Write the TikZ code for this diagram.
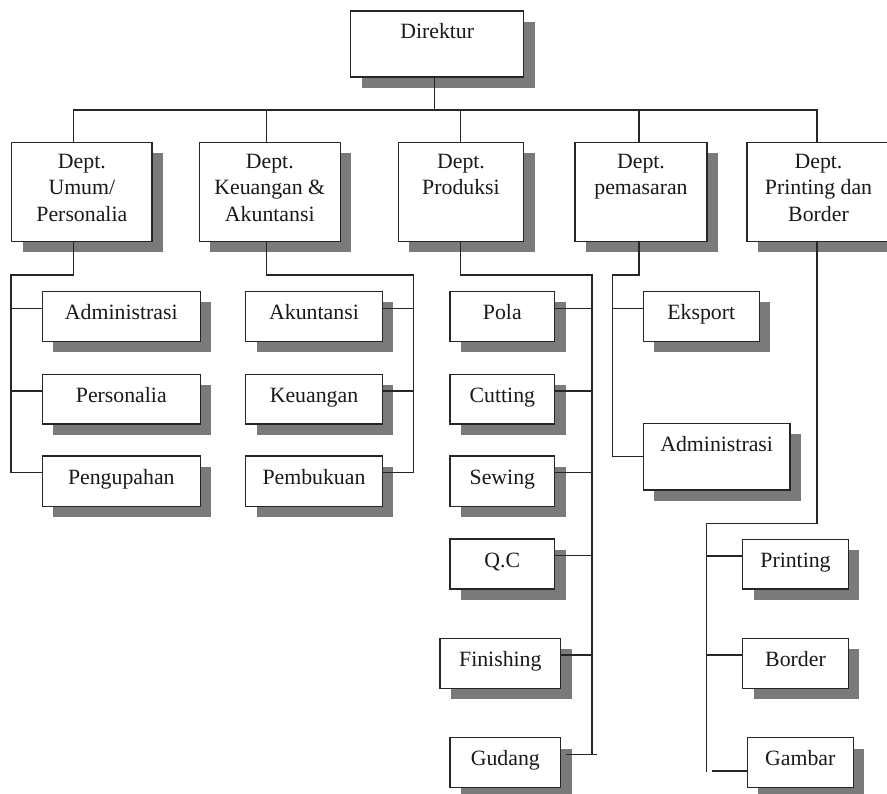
\documentclass[tikz,border=0pt]{standalone}
\usepackage{fontspec}
\setmainfont{Liberation Serif}
\usetikzlibrary{shadows}
\begin{document}
\begin{tikzpicture}[x=1pt,y=-1pt,
  box/.style={draw=black!85, line width=1.3pt, fill=white, inner sep=0pt, outer sep=0pt, anchor=north west,
    drop shadow={shadow xshift=10.8pt, shadow yshift=-10.8pt, fill=black!52, opacity=1}},
  txt/.style={font=\fontsize{21.8pt}{26.5pt}\selectfont, inner sep=0pt, align=center, text=black!90},
  conn/.style={draw=black!85, line width=1.1pt}]
\useasboundingbox[fill=white] (0,0) rectangle (887,794);

% ---- boxes ----
\node[box, minimum width=173pt, minimum height=66pt] (dir) at (350.7,11) {};
\node[box, minimum width=140.3pt, minimum height=99pt] (d1) at (11.7,142.7) {};
\node[box, minimum width=141pt, minimum height=99pt] (d2) at (199.3,142.7) {};
\node[box, minimum width=125.4pt, minimum height=99pt] (d3) at (398.3,142.7) {};
\node[box, minimum width=132pt, minimum height=99pt] (d4) at (575,142.7) {};
\node[box, minimum width=145pt, minimum height=99pt] (d5) at (747,142.7) {};

\node[box, minimum width=158pt, minimum height=49.5pt] (adm) at (42.3,291.7) {};
\node[box, minimum width=158pt, minimum height=49.7pt] (per) at (42.3,374.3) {};
\node[box, minimum width=158pt, minimum height=50.5pt] (peng) at (42.3,456) {};

\node[box, minimum width=136.6pt, minimum height=49.5pt] (ak) at (245.7,291.7) {};
\node[box, minimum width=136.6pt, minimum height=49.7pt] (keu) at (245.7,374.3) {};
\node[box, minimum width=136.6pt, minimum height=50.5pt] (pemb) at (245.7,456) {};

\node[box, minimum width=104.7pt, minimum height=49.5pt] (pola) at (450,291.7) {};
\node[box, minimum width=104.7pt, minimum height=49.7pt] (cut) at (450,374.3) {};
\node[box, minimum width=104.7pt, minimum height=50.5pt] (sew) at (450,456) {};
\node[box, minimum width=104.7pt, minimum height=50pt] (qc) at (450,539) {};
\node[box, minimum width=120.7pt, minimum height=50pt] (fin) at (440,638.3) {};
\node[box, minimum width=110.7pt, minimum height=49.6pt] (gud) at (450,737.7) {};

\node[box, minimum width=116pt, minimum height=49.5pt] (eks) at (643.3,291.7) {};
\node[box, minimum width=146.7pt, minimum height=66.3pt] (adm2) at (643.3,423.7) {};

\node[box, minimum width=105.6pt, minimum height=49.7pt] (prt) at (742.7,539.3) {};
\node[box, minimum width=105.6pt, minimum height=50pt] (bor) at (742.7,638.3) {};
\node[box, minimum width=106pt, minimum height=49.6pt] (gam) at (747.3,737.7) {};

% ---- texts ----
\node[txt, anchor=base] (dirT) at ([yshift=-28pt]dir.north) {Direktur};
\node[txt, anchor=north] (d1T) at (d1.north) {\rule{0pt}{25.6pt}Dept.\\Umum/\\Personalia};
\node[txt, anchor=north] (d2T) at (d2.north) {\rule{0pt}{25.6pt}Dept.\\Keuangan \&\\Akuntansi};
\node[txt, anchor=north] (d3T) at (d3.north) {\rule{0pt}{25.6pt}Dept.\\Produksi};
\node[txt, anchor=north] (d4T) at (d4.north) {\rule{0pt}{25.6pt}Dept.\\pemasaran};
\node[txt, anchor=north] (d5T) at ([xshift=-1pt]d5.north) {\rule{0pt}{25.6pt}Dept.\\Printing dan\\Border};

\node[txt, anchor=base] (admT) at ([yshift=-28pt]adm.north) {Administrasi};
\node[txt, anchor=base] (perT) at ([yshift=-28pt]per.north) {Personalia};
\node[txt, anchor=base] (pengT) at ([yshift=-28pt]peng.north) {Pengupahan};
\node[txt, anchor=base] (akT) at ([yshift=-28pt]ak.north) {Akuntansi};
\node[txt, anchor=base] (keuT) at ([yshift=-28pt]keu.north) {Keuangan};
\node[txt, anchor=base] (pembT) at ([yshift=-28pt]pemb.north) {Pembukuan};
\node[txt, anchor=base] (polaT) at ([yshift=-28pt]pola.north) {Pola};
\node[txt, anchor=base] (cutT) at ([yshift=-28pt]cut.north) {Cutting};
\node[txt, anchor=base] (sewT) at ([yshift=-28pt]sew.north) {Sewing};
\node[txt, anchor=base] (qcT) at ([yshift=-28pt]qc.north) {Q.C};
\node[txt, anchor=base] (finT) at ([yshift=-28pt]fin.north) {Finishing};
\node[txt, anchor=base] (gudT) at ([yshift=-28pt]gud.north) {Gudang};
\node[txt, anchor=base] (eksT) at ([yshift=-28pt]eks.north) {Eksport};
\node[txt, anchor=base] (adm2T) at ([yshift=-28pt]adm2.north) {Administrasi};
\node[txt, anchor=base] (prtT) at ([yshift=-28pt]prt.north) {Printing};
\node[txt, anchor=base] (borT) at ([yshift=-28pt]bor.north) {Border};
\node[txt, anchor=base] (gamT) at ([yshift=-28pt]gam.north) {Gambar};

% ---- top level connectors ----
\draw[conn] ([xshift=-2.9pt]dir.south) -- ++(0,33);
\draw[conn] ([xshift=-8.5pt]d1.north) -- ++(0,-32.7) -| ([xshift=-2.5pt]d5.north);
\draw[conn] ([xshift=-3.1pt]d2.north) -- ++(0,-32.7);
\draw[conn] ([xshift=-0.7pt]d3.north) -- ++(0,-32.7);
\draw[conn] ([xshift=-2pt]d4.north) -- ++(0,-32.7);

% ---- branch points ----
\coordinate (c1) at (11,275);
\coordinate (c2) at (413.3,275);
\coordinate (c3) at (592,275);
\coordinate (c4) at (612.3,275);
\coordinate (c5) at (706.7,523.3);

\coordinate (admB) at ([yshift=-16.7pt]adm.north west);
\coordinate (perB) at ([yshift=-16.7pt]per.north west);
\coordinate (pengB) at ([yshift=-16.7pt]peng.north west);
\coordinate (akB) at ([yshift=-16.7pt]ak.north east);
\coordinate (keuB) at ([yshift=-16.7pt]keu.north east);
\coordinate (pembB) at ([yshift=-16.7pt]pemb.north east);
\coordinate (polaB) at ([yshift=-16.7pt]pola.north east);
\coordinate (cutB) at ([yshift=-16.7pt]cut.north east);
\coordinate (sewB) at ([yshift=-16.7pt]sew.north east);
\coordinate (qcB) at ([yshift=-16.7pt]qc.north east);
\coordinate (finB) at ([yshift=-16.7pt]fin.north east);
\coordinate (gudB) at ([yshift=-16.7pt]gud.north east);
\coordinate (eksB) at ([yshift=-16.7pt]eks.north west);
\coordinate (prtB) at ([yshift=-16.7pt]prt.north west);
\coordinate (borB) at ([yshift=-16.7pt]bor.north west);
\coordinate (gamB) at ([yshift=-33.3pt]gam.north west);

% ---- column 1 ----
\draw[conn] ([xshift=-8.5pt]d1.south) |- (c1) |- (pengB);
\draw[conn] (admB) -- (admB -| c1);
\draw[conn] (perB) -- (perB -| c1);

% ---- column 2 ----
\draw[conn] ([xshift=-3.1pt]d2.south) |- (c2) |- (pembB);
\draw[conn] (akB) -- (akB -| c2);
\draw[conn] (keuB) -- (keuB -| c2);

% ---- column 3 ----
\draw[conn] ([xshift=-0.7pt]d3.south) |- (c3) -- (c3 |- gudB);
\draw[conn] (polaB) -- (polaB -| c3);
\draw[conn] (cutB) -- (cutB -| c3);
\draw[conn] (sewB) -- (sewB -| c3);
\draw[conn] (qcB) -- (qcB -| c3);
\draw[conn] (finB) -- (finB -| c3);
\draw[conn] ([xshift=5pt]gudB) -- ([xshift=5pt]gudB -| c3);

% ---- column 4 ----
\draw[conn] ([xshift=-2pt]d4.south) |- (c4) |- (adm2.west);
\draw[conn] (eksB) -- (eksB -| c4);

% ---- column 5 ----
\draw[conn] ([xshift=-2.5pt]d5.south) |- (c5) -- ([yshift=-0.7pt]c5 |- gamB);
\draw[conn] (prtB) -- (prtB -| c5);
\draw[conn] (borB) -- (borB -| c5);
\draw[conn] (gamB) -- ([xshift=5pt]gamB -| c5);
\end{tikzpicture}
\end{document}
